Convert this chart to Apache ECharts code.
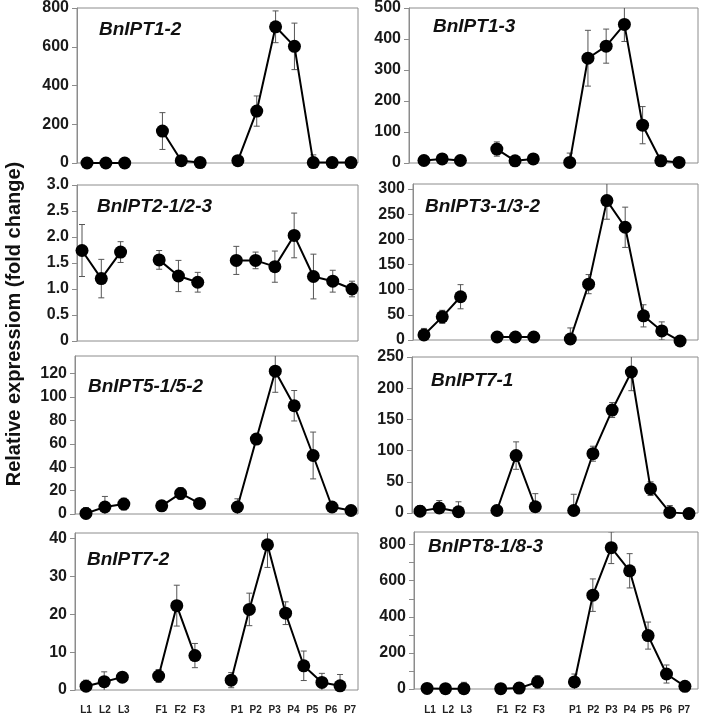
<!DOCTYPE html>
<html>
<head>
<meta charset="utf-8">
<style>html,body{margin:0;padding:0;background:#fff;}#c{width:702px;height:717px;}</style>
<script src="https://cdn.jsdelivr.net/npm/echarts@6/dist/echarts.min.js"></script>
</head>
<body>
<div id="c"></div>
<script>
// ---------- DATA ----------
const categories = ['L1','L2','L3','','F1','F2','F3','','P1','P2','P3','P4','P5','P6','P7'];
const titles = ['BnIPT1-2','BnIPT1-3','BnIPT2-1/2-3','BnIPT3-1/3-2','BnIPT5-1/5-2','BnIPT7-1','BnIPT7-2','BnIPT8-1/8-3'];
const yAxisTitle = 'Relative expressiom (fold change)';

const ipt1_2     = [0,0,0,null,165,12,2,null,12,268,703,602,2,2,2];
const ipt1_2Err  = [0,0,0,null,95,0,0,null,0,78,82,120,40,0,0];
const ipt1_3     = [8,13,8,null,45,7,13,null,2,338,377,447,122,7,2];
const ipt1_3Err  = [0,0,0,null,23,0,0,null,30,90,55,55,60,14,16];
const ipt2       = [1.74,1.2,1.71,null,1.56,1.25,1.13,null,1.55,1.55,1.43,2.03,1.24,1.15,1.0];
const ipt2Err    = [0.5,0.37,0.2,null,0.18,0.3,0.19,null,0.27,0.16,0.3,0.43,0.43,0.21,0.15];
const ipt3       = [10,46,86,null,6,6,6,null,2,111,277,224,48,18,-2];
const ipt3Err    = [13,13,24,null,8,8,8,null,22,19,37,40,22,18,0];
const ipt5       = [0.5,6,8.5,null,7,17.6,9,null,6,64,122,92.5,50,6,3];
const ipt5Err    = [5,9,5,null,0,5,3,null,7,4,18,13,20,3,1];
const ipt7_1     = [3,8,2,null,4,92,10,null,4,95,165,226,39,1,-1];
const ipt7_1Err  = [9,12,16,null,0,22,21,null,26,12,12,30,11,11,0];
const ipt7_2     = [1.0,2.2,3.4,null,3.7,22.3,9.1,null,2.6,21.3,38.4,20.3,6.4,2.0,1.1];
const ipt7_2Err  = [1.6,2.6,0.5,null,1.7,5.4,3.2,null,2,4.3,6,3,3.9,2.4,3];
const ipt8       = [3,2,2,null,2,5,39,null,39,520,783,655,296,83,15];
const ipt8Err    = [0,0,35,null,0,28,35,null,44,90,88,95,75,50,5];

const ticks1 = [0,200,400,600,800];
const ticks2 = [0,100,200,300,400,500];
const ticks3 = [0,0.5,1.0,1.5,2.0,2.5,3.0];
const ticks4 = [0,50,100,150,200,250,300];
const ticks5 = [0,20,40,60,80,100,120];
const ticks6 = [0,50,100,150,200,250];
const ticks7 = [0,10,20,30,40];
const ticks8 = [0,100,200,300,400,500,600,700,800];
const labels8 = [0,200,400,600,800];

const seriesValues = [ipt1_2, ipt1_3, ipt2, ipt3, ipt5, ipt7_1, ipt7_2, ipt8];
const seriesErrors = [ipt1_2Err, ipt1_3Err, ipt2Err, ipt3Err, ipt5Err, ipt7_1Err, ipt7_2Err, ipt8Err];
const tickSets = [ticks1, ticks2, ticks3, ticks4, ticks5, ticks6, ticks7, ticks8];
const labelSets = [ticks1, ticks2, ticks3, ticks4, ticks5, ticks6, ticks7, labels8];
const yMaxes = [800, 500, 3.0, 310, 135, 250, 41.5, 870];

// ---------- LAYOUT ----------
const gridRects = [
  [77, 6, 281, 157],
  [409, 6, 289, 157],
  [77, 185, 281, 156],
  [413, 184, 285, 156],
  [75, 356, 283, 158],
  [412, 357, 286, 156],
  [75, 533, 283, 157],
  [414, 532, 284, 157]
];
const xRanges = [
  [-0.53, 14.37], [-0.82, 15.04], [-0.26, 14.31], [-0.6, 14.98],
  [-0.58, 14.37], [-0.42, 14.47], [-0.61, 14.99], [-0.71, 14.71]
];
const titlePos = [[99,30],[433,27],[97,207],[425,207],[88,387],[431,381],[87,560],[428,547]];
const labelGrids = [[86, 350], [430, 684]];

const FONT = '"Liberation Sans", Arial, Helvetica, sans-serif';
const BORDER = '#8c8c8c';

const grids = [], xAxes = [], yAxes = [], series = [], graphics = [];

gridRects.forEach((r, i) => {
  grids.push({left: r[0], top: r[1], width: r[2], height: r[3], show: true,
    borderColor: BORDER, borderWidth: 1, backgroundColor: 'transparent'});
  xAxes.push({gridIndex: i, type: 'value', min: xRanges[i][0], max: xRanges[i][1], show: false});
  const isDec = (i === 2);
  yAxes.push({
    gridIndex: i, type: 'value', min: 0, max: yMaxes[i], position: 'left',
    axisLine: {show: true, onZero: false, lineStyle: {color: BORDER, width: 1}},
    axisTick: {show: true, length: 5, lineStyle: {color: BORDER}, customValues: tickSets[i]},
    axisLabel: {customValues: labelSets[i], fontSize: 16, fontWeight: 'bold', color: '#1a1a1a',
      fontFamily: FONT, margin: 8,
      formatter: v => isDec ? (v === 0 ? '0' : Number(v).toFixed(1)) : String(v)},
    splitLine: {show: false}
  });
  const vals = seriesValues[i], errs = seriesErrors[i];
  const errData = [];
  vals.forEach((v, k) => { if (v != null && errs[k] > 0) errData.push([k, v - errs[k], v + errs[k]]); });
  series.push({
    type: 'custom', xAxisIndex: i, yAxisIndex: i, clip: true, z: 2,
    data: errData,
    renderItem: function (params, api) {
      const x = api.value(0);
      const lo = api.coord([x, api.value(1)]);
      const hi = api.coord([x, api.value(2)]);
      const w = 3;
      return {type: 'group', children: [
        {type: 'line', shape: {x1: lo[0], y1: lo[1], x2: hi[0], y2: hi[1]}, style: {stroke: '#555', lineWidth: 1}},
        {type: 'line', shape: {x1: hi[0]-w, y1: hi[1], x2: hi[0]+w, y2: hi[1]}, style: {stroke: '#555', lineWidth: 1}},
        {type: 'line', shape: {x1: lo[0]-w, y1: lo[1], x2: lo[0]+w, y2: lo[1]}, style: {stroke: '#555', lineWidth: 1}}
      ]};
    }
  });
  series.push({
    type: 'line', xAxisIndex: i, yAxisIndex: i, z: 3, clip: false,
    data: vals.map((v, k) => [k, v == null ? null : v]),
    connectNulls: false,
    symbol: 'circle', symbolSize: 13, showAllSymbol: true,
    lineStyle: {color: '#000', width: 2},
    itemStyle: {color: '#000'},
    animation: false
  });
  graphics.push({type: 'text', x: titlePos[i][0], y: titlePos[i][1],
    style: {text: titles[i], font: 'italic bold 19px ' + FONT, fill: '#111',
      textAlign: 'left', textVerticalAlign: 'middle'}});
});

// label-only grids for bottom row x labels
labelGrids.forEach((lg, j) => {
  const gi = grids.length;
  grids.push({left: lg[0], top: 700, width: lg[1] - lg[0], height: 1, show: false});
  xAxes.push({gridIndex: gi, type: 'category', data: categories, boundaryGap: false,
    axisLine: {show: false}, axisTick: {show: false},
    axisLabel: {interval: 0, fontSize: 10, fontWeight: 'bold', color: '#222', fontFamily: FONT, margin: 4}});
  yAxes.push({gridIndex: gi, type: 'value', show: false});
});

graphics.push({type: 'text', x: 14, y: 324, rotation: Math.PI / 2,
  style: {text: yAxisTitle, font: 'bold 20px ' + FONT, fill: '#111', textAlign: 'center', textVerticalAlign: 'middle'}});

const chart = echarts.init(document.getElementById('c'), null, {renderer: 'canvas'});
chart.setOption({
  animation: false,
  backgroundColor: '#fff',
  grid: grids, xAxis: xAxes, yAxis: yAxes, series: series, graphic: graphics
});
</script>
</body>
</html>
